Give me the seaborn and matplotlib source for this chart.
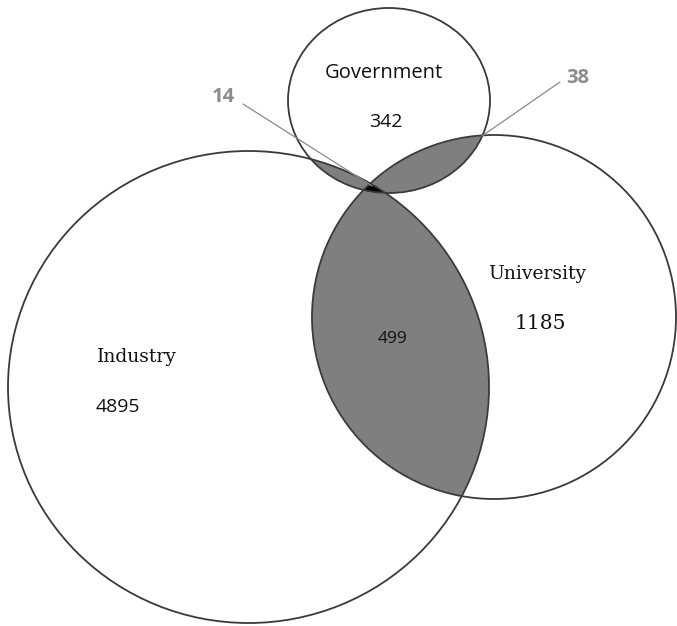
import numpy as np
import seaborn as sns
import matplotlib.pyplot as plt
from matplotlib.patches import Ellipse

# counts per region of the venn diagram
sets = ["Government", "Industry", "University"]
only_counts = [342, 4895, 1185]
pair_labels = ["Gov & Ind", "Gov & Uni", "Ind & Uni"]
pair_counts = [14, 38, 499]

sns.set_theme(style="white")

fig = plt.figure(figsize=(6.77, 6.26), dpi=100)
ax = fig.add_axes([0, 0, 1, 1])
ax.set_xlim(0, 677)
ax.set_ylim(626, 0)
ax.axis("off")

# layout in pixel units (centre x, centre y, width, height)
shapes = {
    "Government": (389, 100.5, 202, 185),
    "Industry": (248.5, 387, 481, 472),
    "University": (494, 317, 364, 364),
}

def make(name, **kw):
    cx, cy, w, h = shapes[name]
    return Ellipse((cx, cy), w, h, transform=ax.transData, **kw)

grey = "#7f7f7f"
pairs = [("Government", "Industry"), ("Government", "University"), ("Industry", "University")]
for a, b in pairs:
    fill = make(a, facecolor=grey, edgecolor="none", zorder=1)
    ax.add_patch(fill)
    fill.set_clip_path(make(b))
    for p, q in [(a, b), (b, a)]:
        edge = make(p, facecolor="none", edgecolor="#dddddd", lw=0.9, ls=(0, (2, 2)), zorder=2)
        ax.add_patch(edge)
        edge.set_clip_path(make(q))

# tiny triple overlap in black
xx, yy = np.meshgrid(np.linspace(340, 410, 300), np.linspace(160, 210, 300))
inside = np.ones_like(xx, dtype=bool)
for name in sets:
    cx, cy, w, h = shapes[name]
    inside &= ((xx - cx) / (w / 2)) ** 2 + ((yy - cy) / (h / 2)) ** 2 <= 1
ax.contourf(xx, yy, inside.astype(float), levels=[0.5, 1.5], colors="black", zorder=3)

for name in sets:
    ax.add_patch(make(name, facecolor="none", edgecolor="#3a3a3a", lw=1.3, zorder=4))

sans = "Open Sans"
serif = "DejaVu Serif"
ax.text(383.5, 78, sets[0], family=sans, fontsize=14.5, ha="center", va="baseline", color="#111")
ax.text(386, 127, str(only_counts[0]), family=sans, fontsize=14, ha="center", va="baseline", color="#111")
ax.text(97, 362, sets[1], family=serif, fontsize=13.5, ha="left", va="baseline", color="#111")
ax.text(96, 412, str(only_counts[1]), family=sans, fontsize=14, ha="left", va="baseline", color="#111")
ax.text(537, 279, sets[2], family=serif, fontsize=13.5, ha="center", va="baseline", color="#111")
ax.text(540, 329, str(only_counts[2]), family=serif, fontsize=14.5, ha="center", va="baseline", color="#111")
ax.text(392, 343, str(pair_counts[2]), family=sans, fontsize=12.5, ha="center", va="baseline", color="#111", zorder=5)

# leader labels for the two small overlaps
ax.plot([243, 372], [104, 186], color="#8a8a8a", lw=0.9, zorder=5)
ax.text(223, 102, str(pair_counts[0]), family=sans, fontsize=14.5, weight="bold", ha="center", va="baseline", color="#8c8c8c")
ax.plot([560, 482], [82, 136], color="#8a8a8a", lw=0.9, zorder=5)
ax.text(578, 83, str(pair_counts[1]), family=sans, fontsize=14.5, weight="bold", ha="center", va="baseline", color="#8c8c8c")

fig.savefig("out.png", dpi=100, facecolor="white")
